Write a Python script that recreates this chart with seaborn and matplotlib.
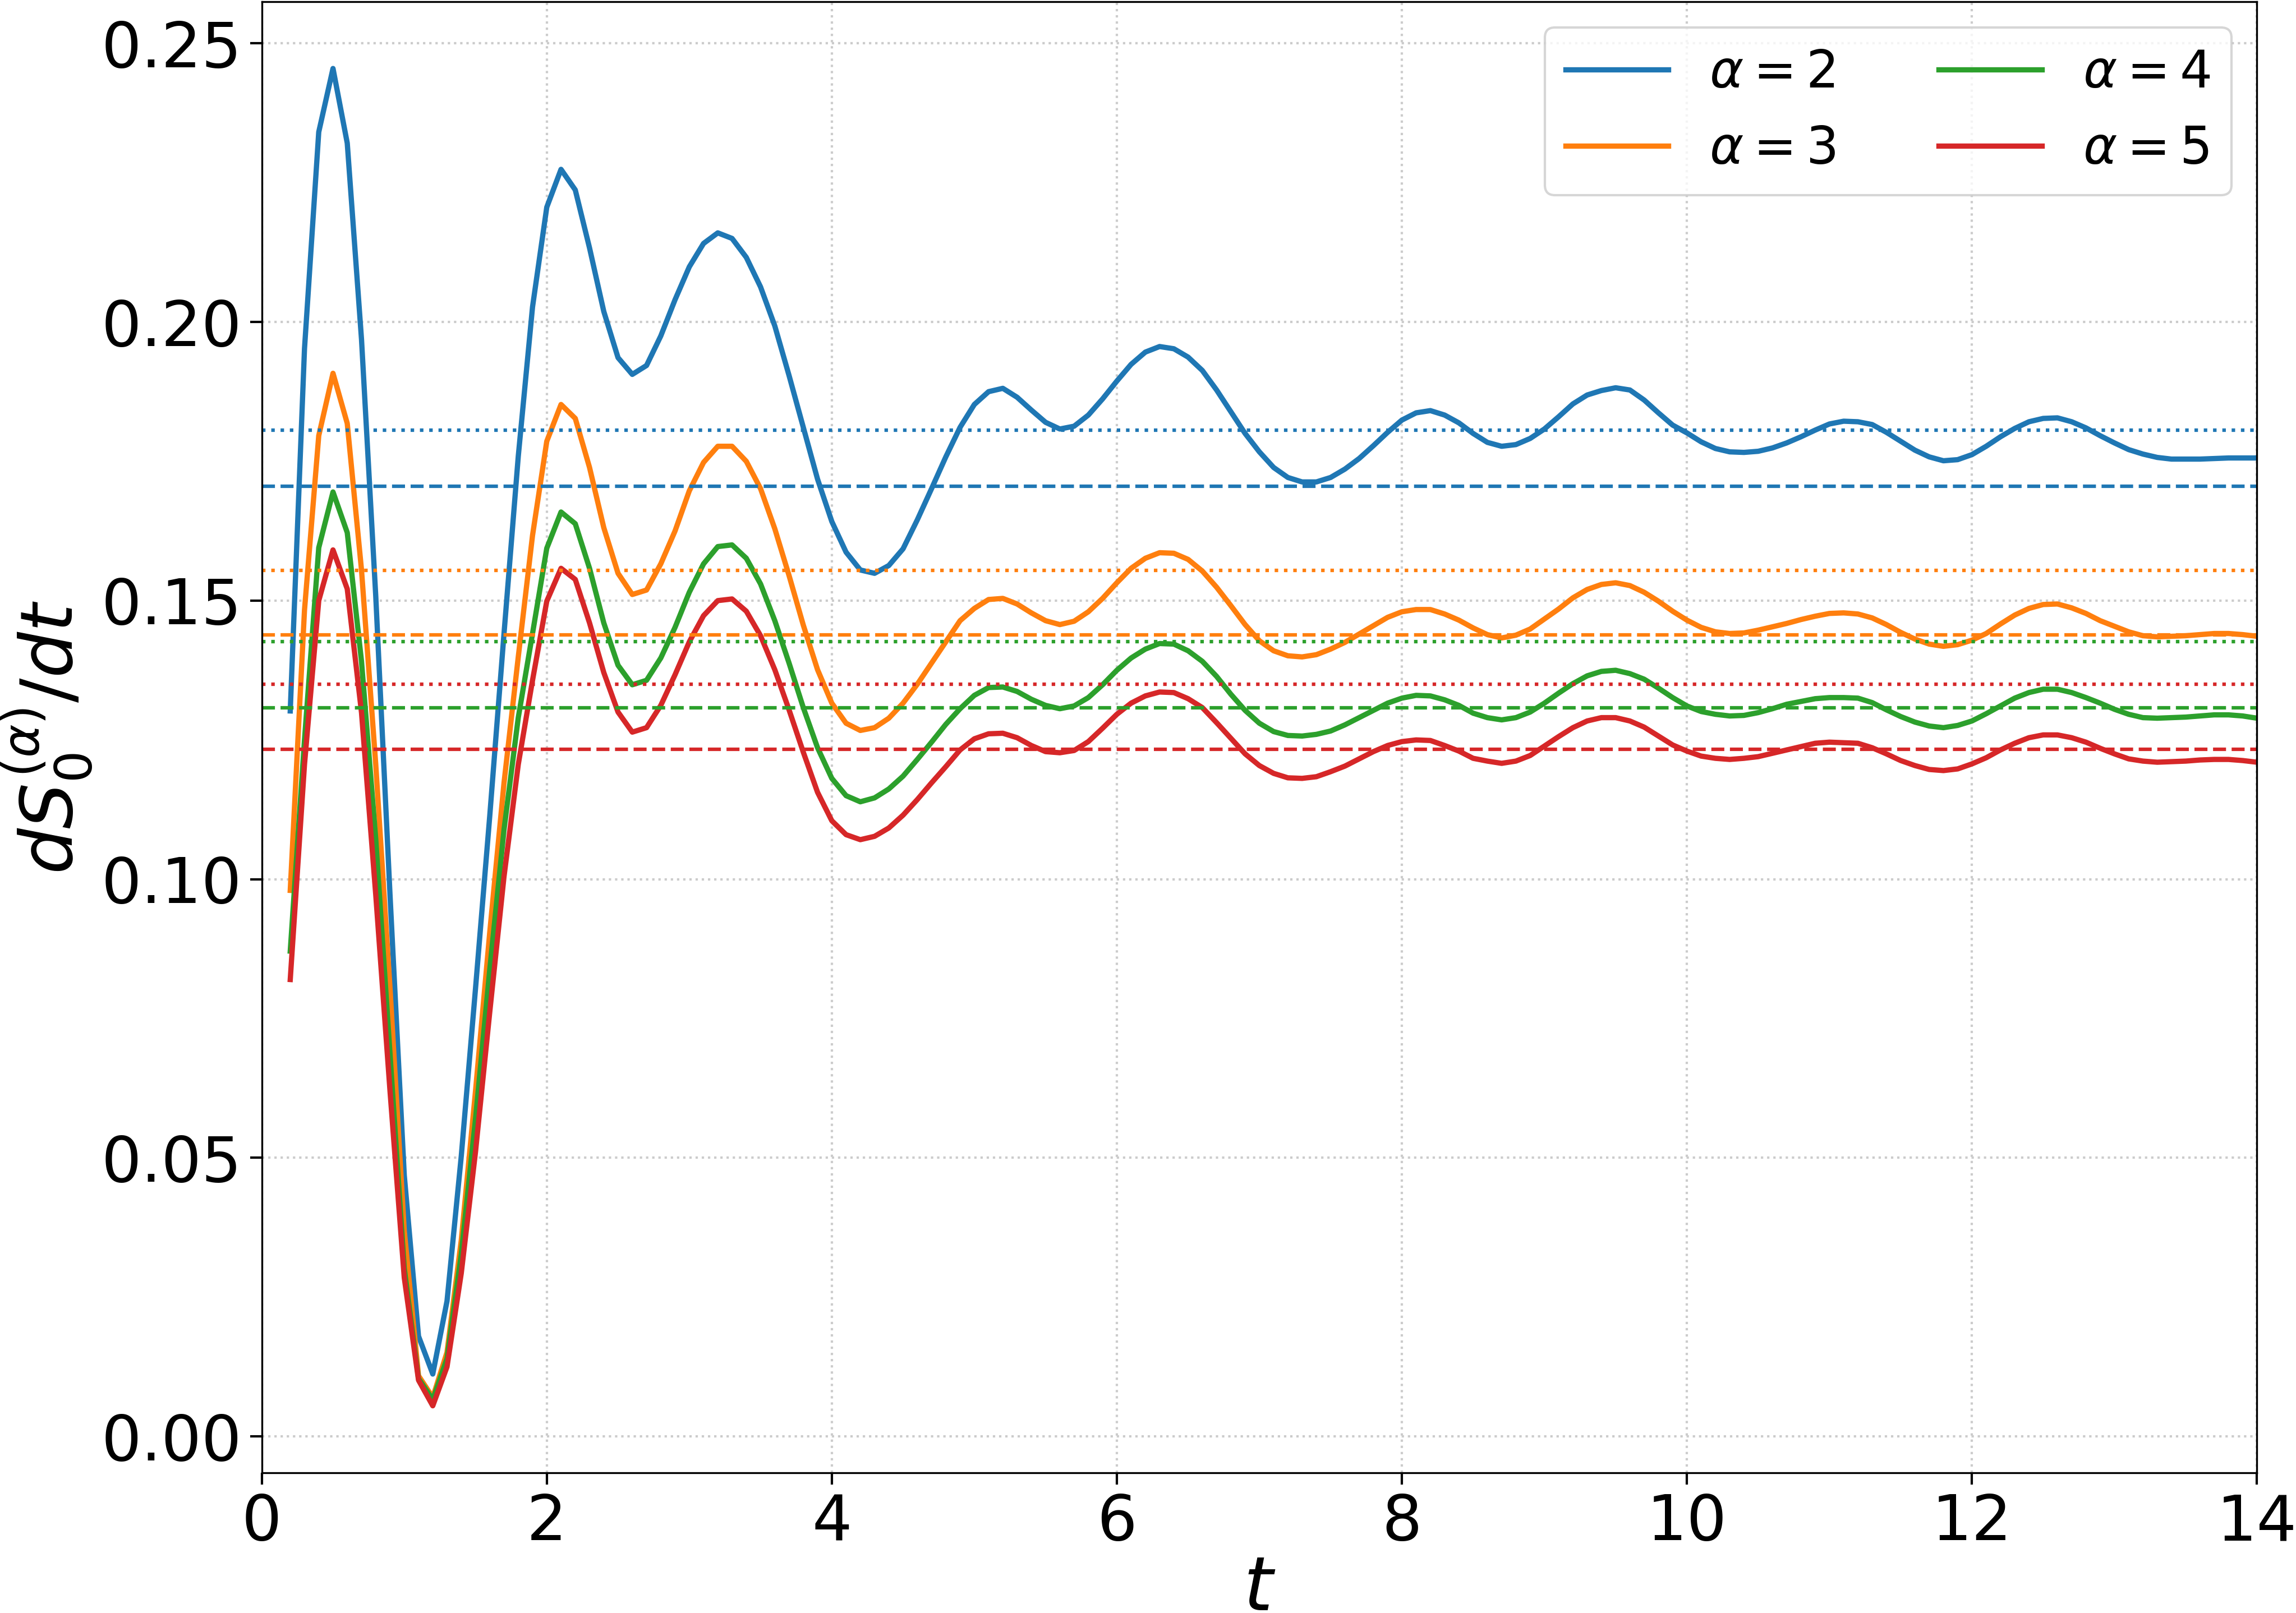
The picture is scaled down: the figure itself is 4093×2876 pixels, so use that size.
import numpy as np
import pandas as pd
import seaborn as sns
import matplotlib
matplotlib.use('Agg')
import matplotlib.pyplot as plt

# time grid (step 0.1)
t = [0.2, 0.3, 0.4, 0.5, 0.6, 0.7, 0.8, 0.9, 1.0, 1.1,
     1.2, 1.3, 1.4, 1.5, 1.6, 1.7, 1.8, 1.9, 2.0, 2.1,
     2.2, 2.3, 2.4, 2.5, 2.6, 2.7, 2.8, 2.9, 3.0, 3.1,
     3.2, 3.3, 3.4, 3.5, 3.6, 3.7, 3.8, 3.9, 4.0, 4.1,
     4.2, 4.3, 4.4, 4.5, 4.6, 4.7, 4.8, 4.9, 5.0, 5.1,
     5.2, 5.3, 5.4, 5.5, 5.6, 5.7, 5.8, 5.9, 6.0, 6.1,
     6.2, 6.3, 6.4, 6.5, 6.6, 6.7, 6.8, 6.9, 7.0, 7.1,
     7.2, 7.3, 7.4, 7.5, 7.6, 7.7, 7.8, 7.9, 8.0, 8.1,
     8.2, 8.3, 8.4, 8.5, 8.6, 8.7, 8.8, 8.9, 9.0, 9.1,
     9.2, 9.3, 9.4, 9.5, 9.6, 9.7, 9.8, 9.9, 10.0, 10.1,
     10.2, 10.3, 10.4, 10.5, 10.6, 10.7, 10.8, 10.9, 11.0, 11.1,
     11.2, 11.3, 11.4, 11.5, 11.6, 11.7, 11.8, 11.9, 12.0, 12.1,
     12.2, 12.3, 12.4, 12.5, 12.6, 12.7, 12.8, 12.9, 13.0, 13.1,
     13.2, 13.3, 13.4, 13.5, 13.6, 13.7, 13.8, 13.9, 14.0]

ds_a2 = [0.1302, 0.1952, 0.2341, 0.2455, 0.2321, 0.1969, 0.1508, 0.0972, 0.0469, 0.0180,
         0.0112, 0.0243, 0.0503, 0.0804, 0.1114, 0.1441, 0.1759, 0.2027, 0.2206, 0.2274,
         0.2237, 0.2133, 0.2019, 0.1936, 0.1906, 0.1922, 0.1975, 0.2040, 0.2099, 0.2141,
         0.2160, 0.2150, 0.2116, 0.2063, 0.1993, 0.1904, 0.1811, 0.1718, 0.1642, 0.1587,
         0.1555, 0.1549, 0.1563, 0.1593, 0.1645, 0.1701, 0.1758, 0.1811, 0.1852, 0.1875,
         0.1881, 0.1865, 0.1842, 0.1820, 0.1808, 0.1813, 0.1833, 0.1862, 0.1894, 0.1924,
         0.1946, 0.1956, 0.1952, 0.1937, 0.1913, 0.1878, 0.1839, 0.1800, 0.1767, 0.1739,
         0.1721, 0.1713, 0.1713, 0.1721, 0.1736, 0.1755, 0.1778, 0.1802, 0.1824, 0.1837,
         0.1841, 0.1833, 0.1819, 0.1800, 0.1784, 0.1777, 0.1780, 0.1791, 0.1808, 0.1830,
         0.1853, 0.1869, 0.1877, 0.1882, 0.1878, 0.1860, 0.1837, 0.1815, 0.1801, 0.1785,
         0.1773, 0.1767, 0.1766, 0.1768, 0.1774, 0.1783, 0.1794, 0.1806, 0.1817, 0.1822,
         0.1821, 0.1816, 0.1802, 0.1786, 0.1770, 0.1758, 0.1751, 0.1753, 0.1762, 0.1777,
         0.1794, 0.1809, 0.1821, 0.1827, 0.1828, 0.1821, 0.1810, 0.1796, 0.1783, 0.1771,
         0.1763, 0.1757, 0.1754, 0.1754, 0.1754, 0.1755, 0.1756, 0.1756, 0.1756]

ds_a3 = [0.0980, 0.1483, 0.1796, 0.1908, 0.1818, 0.1555, 0.1206, 0.0804, 0.0369, 0.0109,
         0.0070, 0.0151, 0.0352, 0.0620, 0.0905, 0.1173, 0.1399, 0.1617, 0.1786, 0.1852,
         0.1827, 0.1739, 0.1631, 0.1549, 0.1511, 0.1519, 0.1566, 0.1625, 0.1697, 0.1748,
         0.1777, 0.1777, 0.1750, 0.1701, 0.1629, 0.1545, 0.1456, 0.1376, 0.1316, 0.1280,
         0.1267, 0.1272, 0.1289, 0.1316, 0.1350, 0.1388, 0.1426, 0.1464, 0.1486, 0.1502,
         0.1504, 0.1494, 0.1478, 0.1464, 0.1457, 0.1463, 0.1480, 0.1504, 0.1532, 0.1558,
         0.1576, 0.1586, 0.1585, 0.1574, 0.1553, 0.1524, 0.1491, 0.1457, 0.1428, 0.1410,
         0.1401, 0.1399, 0.1403, 0.1413, 0.1425, 0.1440, 0.1455, 0.1470, 0.1480, 0.1484,
         0.1484, 0.1476, 0.1465, 0.1451, 0.1439, 0.1433, 0.1438, 0.1449, 0.1467, 0.1485,
         0.1505, 0.1520, 0.1529, 0.1532, 0.1527, 0.1515, 0.1499, 0.1481, 0.1465, 0.1452,
         0.1444, 0.1441, 0.1442, 0.1447, 0.1453, 0.1459, 0.1466, 0.1472, 0.1477, 0.1478,
         0.1476, 0.1469, 0.1457, 0.1443, 0.1431, 0.1422, 0.1418, 0.1421, 0.1429, 0.1441,
         0.1458, 0.1474, 0.1486, 0.1493, 0.1494, 0.1487, 0.1477, 0.1464, 0.1454, 0.1444,
         0.1437, 0.1435, 0.1436, 0.1437, 0.1439, 0.1441, 0.1441, 0.1439, 0.1436]

ds_a4 = [0.0871, 0.1250, 0.1595, 0.1695, 0.1622, 0.1391, 0.1072, 0.0687, 0.0302, 0.0104,
         0.0066, 0.0140, 0.0327, 0.0570, 0.0838, 0.1089, 0.1290, 0.1441, 0.1594, 0.1659,
         0.1638, 0.1558, 0.1460, 0.1384, 0.1349, 0.1357, 0.1397, 0.1452, 0.1515, 0.1566,
         0.1597, 0.1600, 0.1576, 0.1530, 0.1464, 0.1388, 0.1308, 0.1236, 0.1181, 0.1150,
         0.1139, 0.1146, 0.1162, 0.1185, 0.1215, 0.1246, 0.1278, 0.1306, 0.1330, 0.1344,
         0.1345, 0.1337, 0.1323, 0.1312, 0.1306, 0.1311, 0.1326, 0.1349, 0.1375, 0.1397,
         0.1413, 0.1423, 0.1422, 0.1410, 0.1391, 0.1364, 0.1332, 0.1303, 0.1280, 0.1265,
         0.1258, 0.1257, 0.1260, 0.1266, 0.1277, 0.1290, 0.1303, 0.1316, 0.1325, 0.1330,
         0.1329, 0.1322, 0.1312, 0.1298, 0.1290, 0.1286, 0.1290, 0.1300, 0.1316, 0.1334,
         0.1351, 0.1365, 0.1373, 0.1375, 0.1369, 0.1359, 0.1343, 0.1326, 0.1311, 0.1301,
         0.1296, 0.1293, 0.1294, 0.1299, 0.1306, 0.1314, 0.1319, 0.1324, 0.1326, 0.1326,
         0.1325, 0.1317, 0.1304, 0.1292, 0.1282, 0.1275, 0.1272, 0.1276, 0.1284, 0.1297,
         0.1311, 0.1325, 0.1335, 0.1341, 0.1341, 0.1335, 0.1326, 0.1316, 0.1305, 0.1296,
         0.1290, 0.1289, 0.1290, 0.1291, 0.1293, 0.1295, 0.1295, 0.1293, 0.1289]

ds_a5 = [0.0820, 0.1206, 0.1500, 0.1591, 0.1521, 0.1299, 0.0972, 0.0620, 0.0285, 0.0101,
         0.0055, 0.0125, 0.0293, 0.0511, 0.0762, 0.1005, 0.1206, 0.1357, 0.1499, 0.1558,
         0.1538, 0.1460, 0.1371, 0.1300, 0.1264, 0.1272, 0.1312, 0.1367, 0.1426, 0.1473,
         0.1500, 0.1503, 0.1481, 0.1437, 0.1376, 0.1304, 0.1228, 0.1156, 0.1105, 0.1080,
         0.1071, 0.1077, 0.1092, 0.1115, 0.1143, 0.1173, 0.1202, 0.1232, 0.1252, 0.1261,
         0.1262, 0.1254, 0.1240, 0.1229, 0.1227, 0.1231, 0.1247, 0.1271, 0.1296, 0.1316,
         0.1329, 0.1336, 0.1335, 0.1324, 0.1308, 0.1281, 0.1253, 0.1225, 0.1204, 0.1190,
         0.1182, 0.1181, 0.1184, 0.1193, 0.1203, 0.1216, 0.1229, 0.1240, 0.1247, 0.1250,
         0.1249, 0.1240, 0.1230, 0.1217, 0.1212, 0.1208, 0.1212, 0.1222, 0.1239, 0.1256,
         0.1272, 0.1284, 0.1290, 0.1290, 0.1284, 0.1273, 0.1257, 0.1241, 0.1230, 0.1221,
         0.1217, 0.1215, 0.1217, 0.1220, 0.1226, 0.1232, 0.1238, 0.1244, 0.1246, 0.1245,
         0.1244, 0.1236, 0.1225, 0.1213, 0.1204, 0.1197, 0.1195, 0.1198, 0.1207, 0.1218,
         0.1232, 0.1244, 0.1254, 0.1259, 0.1259, 0.1254, 0.1246, 0.1235, 0.1225, 0.1216,
         0.1212, 0.1210, 0.1211, 0.1212, 0.1214, 0.1215, 0.1215, 0.1213, 0.1210]

labels = [r'$\alpha=2$', r'$\alpha=3$', r'$\alpha=4$', r'$\alpha=5$']
# reference levels per alpha (dashed and dotted horizontal lines)
level_dashed = [0.1705, 0.1439, 0.1308, 0.1233]
level_dotted = [0.1806, 0.1554, 0.1426, 0.1350]

series = [ds_a2, ds_a3, ds_a4, ds_a5]
df = pd.concat([pd.DataFrame({'t': t, 'dS': s, 'alpha': lab})
                for s, lab in zip(series, labels)], ignore_index=True)

colors = sns.color_palette('tab10', 4)

fig, ax = plt.subplots(figsize=(4093 / 300, 2876 / 300), dpi=300)
sns.lineplot(data=df, x='t', y='dS', hue='alpha', palette=colors,
             errorbar=None, linewidth=2.25, ax=ax)

for c, yd, yo in zip(colors, level_dashed, level_dotted):
    ax.axhline(yd, color=c, ls='--', lw=1.5)
    ax.axhline(yo, color=c, ls=':', lw=1.5)

ax.set_xlim(0, 14)
ax.grid(True, ls=':', lw=1.0, color='0.8')
ax.tick_params(labelsize=27, length=5, width=1.0)
ax.set_xlabel(r'$t$', fontsize=32, labelpad=0)
ax.set_ylabel(r'$dS_0^{(\alpha)}/dt$', fontsize=31, labelpad=3)

handles, labs = ax.get_legend_handles_labels()
ax.legend(handles, labs, ncol=2, loc='upper right', fontsize=22,
          columnspacing=2.0)

fig.subplots_adjust(left=0.114, right=0.983, top=0.999, bottom=0.087)
fig.savefig('out.png', dpi=300)
